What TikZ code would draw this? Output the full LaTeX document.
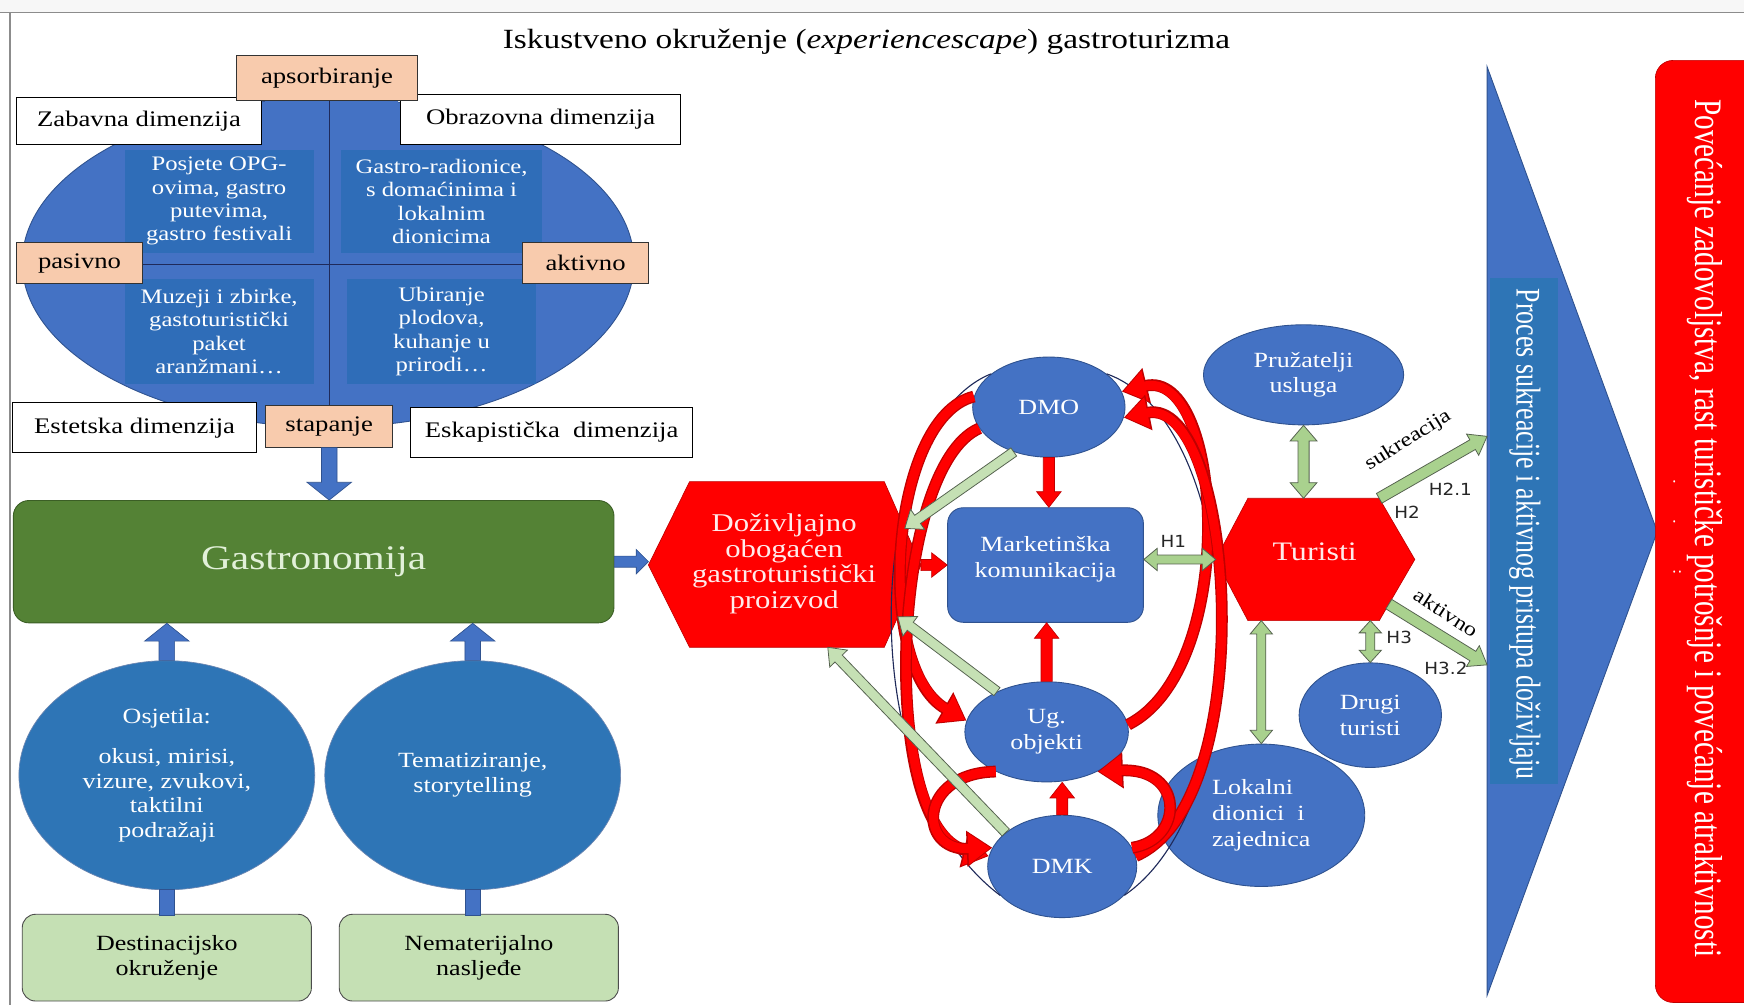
\documentclass[tikz,border=0pt]{standalone}
\usepackage{fontspec}
\setmainfont[FakeStretch=1.2]{Liberation Serif}
\newfontfamily\condfont[FakeStretch=0.75]{Liberation Serif}
\newfontfamily\hsans[FakeStretch=1.1]{DejaVu Sans}
\usetikzlibrary{calc,shapes.geometric,arrows.meta}
\definecolor{blueA}{HTML}{4472C4}
\definecolor{blueB}{HTML}{2E75B6}
\definecolor{blueQ}{HTML}{2F6DB8}
\definecolor{bdark}{HTML}{2F528F}
\definecolor{gdark}{HTML}{548235}
\definecolor{gborder}{HTML}{3B5E25}
\definecolor{glight}{HTML}{C5E0B4}
\definecolor{gmid}{HTML}{A9D18E}
\definecolor{goutline}{HTML}{55624F}
\definecolor{peach}{HTML}{F8CBAD}
\definecolor{redA}{HTML}{FF0000}
\definecolor{redD}{HTML}{C00000}
\definecolor{gastxt}{HTML}{E2F0D9}
\definecolor{navy}{HTML}{1F2A5A}
\newcommand{\myfs}[2]{\fontsize{#1}{#2}\selectfont}
% block arrow: #1 style, #2 shaft half width, #3 head half width, #4 head length, #5 from, #6 to
\newcommand{\blkarrow}[6]{%
  \coordinate (ba-s) at (#5);
  \coordinate (ba-e) at (#6);
  \coordinate (ba-n) at ($(ba-e)!#4!(ba-s)$);
  \path[#1] ($(ba-s)!#2!90:(ba-e)$) -- ($(ba-n)!#2!-90:(ba-s)$) -- ($(ba-n)!#3!-90:(ba-s)$) -- (ba-e)
     -- ($(ba-n)!#3!90:(ba-s)$) -- ($(ba-n)!#2!90:(ba-s)$) -- ($(ba-s)!#2!-90:(ba-e)$) -- cycle;
}
\newcommand{\dblkarrow}[6]{%
  \coordinate (ba-s) at (#5);
  \coordinate (ba-e) at (#6);
  \coordinate (ba-m) at ($(ba-s)!#4!(ba-e)$);
  \coordinate (ba-n) at ($(ba-e)!#4!(ba-s)$);
  \path[#1] (ba-s) -- ($(ba-m)!#3!90:(ba-e)$) -- ($(ba-m)!#2!90:(ba-e)$) -- ($(ba-n)!#2!-90:(ba-s)$)
     -- ($(ba-n)!#3!-90:(ba-s)$) -- (ba-e) -- ($(ba-n)!#3!90:(ba-s)$) -- ($(ba-n)!#2!90:(ba-s)$)
     -- ($(ba-m)!#2!-90:(ba-e)$) -- ($(ba-m)!#3!-90:(ba-e)$) -- cycle;
}
\newcommand{\redcurve}[1]{%
  \draw[redD, line width=10.6pt, -{Triangle[length=23pt,width=31pt]}] #1;
  \draw[redA, line width=8.2pt, shorten >=1.6pt, -{Triangle[length=20pt,width=27pt]}] #1;
}
\begin{document}
\begin{tikzpicture}[x=1pt,y=-1pt,
  wbox/.style={draw=black, fill=white, line width=0.9pt, inner sep=0pt, font=\myfs{20}{24}},
  pbox/.style={draw=black!80, fill=peach, line width=0.9pt, inner sep=0pt, font=\myfs{20}{24}},
  quad/.style={fill=blueQ, text=white, inner sep=0pt, align=center, font=\myfs{18.5}{21}},
  bell/.style={ellipse, draw=bdark, fill=blueA, line width=0.8pt, inner sep=0pt, text=white, align=center, font=\myfs{19.5}{23}},
  bcirc/.style={ellipse, draw=bdark!70, fill=blueB, line width=0.6pt, inner sep=0pt, text=white, align=center, font=\myfs{19.5}{22}},
  lgbox/.style={draw=gray!60!black, fill=glight, rounded corners=12pt, line width=0.8pt, align=center, font=\myfs{19.5}{23}},
  barblue/.style={fill=blueA, draw=bdark, line width=0.6pt},
  barred/.style={fill=redA, draw=redD, line width=0.6pt},
  bargreen/.style={fill=glight, draw=goutline, line width=0.7pt},
  bargreen2/.style={fill=gmid, draw=goutline, line width=0.7pt},
  hlab/.style={font=\hsans\myfs{15}{15}, text=black!85, inner sep=1pt}
]
\useasboundingbox (0,0) rectangle (1568,904);
\clip (0,0) rectangle (1568,904);
\fill[white] (0,0) rectangle (1568,904);
\fill[black!3] (0,0) rectangle (1568,11);
\draw[black!45, line width=1.2pt] (0,11.5) -- (1568,11.5);
\draw[black!45, line width=1.2pt] (9,11.5) -- (9,904);

% title
\node[font=\myfs{25}{30}] (title) at (779,38) {Iskustveno okruženje (\textit{experiencescape}) gastroturizma};

% experience dimensions
\node[ellipse, fill=blueA, draw=bdark, line width=0.8pt, minimum width=550pt, minimum height=296pt, inner sep=0pt] (elp) at (295,236) {};
\fill[blueA] (238,88) rectangle (358,112);
\node[quad, minimum width=170pt, minimum height=93pt] (q1) at (197,181) {Posjete OPG-\\ovima, gastro\\putevima,\\gastro festivali};
\node[quad, minimum width=180pt, minimum height=93pt] (q2) at (397,181) {Gastro-radionice,\\s domaćinima i\\lokalnim\\dionicima};
\node[quad, minimum width=170pt, minimum height=95pt] (q3) at (197,298) {Muzeji i zbirke,\\gastoturistički\\paket\\aranžmani…};
\node[quad, minimum width=170pt, minimum height=95pt] (q4) at (397,298) {Ubiranje\\plodova,\\kuhanje u\\prirodi…};
\draw[navy, line width=1.3pt] (296,90) -- (296,366);
\draw[navy, line width=1.3pt] (21,238) -- (569,238);

\node[wbox, minimum width=220pt, minimum height=42pt] (zab) at (125,109) {Zabavna dimenzija};
\node[wbox, minimum width=252pt, minimum height=45pt] (obr) at (486,107.5) {Obrazovna dimenzija};
\node[wbox, minimum width=220pt, minimum height=45pt] (est) at (121,384.5) {Estetska dimenzija};
\node[wbox, minimum width=254pt, minimum height=45pt] (esk) at (496,388.5) {Eskapistička\ \ dimenzija};
\node[pbox, minimum width=162pt, minimum height=40pt] (aps) at (294,70) {apsorbiranje};
\node[pbox, minimum width=113pt, minimum height=37pt] (pas) at (71.5,236.5) {pasivno};
\node[pbox, minimum width=113pt, minimum height=37pt] (akt) at (526.5,236.5) {aktivno};
\node[pbox, minimum width=114pt, minimum height=37pt] (stap) at (296,383.5) {stapanje};

% gastronomija
\node[draw=gborder, fill=gdark, rounded corners=14pt, minimum width=540pt, minimum height=110pt, text=gastxt, font=\myfs{31}{34}, line width=0.8pt] (gas) at (282,505) {Gastronomija};
\blkarrow{barblue}{7pt}{20pt}{16pt}{stap.south}{stap.south |- gas.north}

% bottom left
\node[lgbox, minimum width=260pt, minimum height=78pt] (dest) at (150,861) {Destinacijsko\\okruženje};
\node[lgbox, minimum width=251pt, minimum height=78pt] (nem) at (430.5,861) {Nematerijalno\\nasljeđe};
\node[bcirc, minimum width=266pt, minimum height=206pt] (osj) at (150,697) {Osjetila:\\[14pt]okusi, mirisi,\\vizure, zvukovi,\\taktilni\\podražaji};
\node[bcirc, minimum width=266pt, minimum height=206pt] (tem) at (425,697) {Tematiziranje,\\storytelling};
\path[barblue] ($(dest.north)+(-7,1)$) rectangle ($(dest.north |- osj.south)+(7,-1)$);
\path[barblue] ($(tem.south |- nem.north)+(-7,1)$) rectangle ($(tem.south)+(7,-1)$);
\blkarrow{barblue}{7pt}{20pt}{16pt}{osj.north}{osj.north |- gas.south}
\blkarrow{barblue}{7pt}{20pt}{16pt}{tem.north}{tem.north |- gas.south}

% product hexagon
\coordinate (prodL) at (583,508);
\coordinate (prodTL) at (620,433);
\coordinate (prodTR) at (795,433);
\coordinate (prodR) at (828,508);
\coordinate (prodBR) at (795,582);
\coordinate (prodBL) at (620,582);
\path[fill=redA, draw=redD, line width=0.6pt] (prodL) -- (prodTL) -- (prodTR) -- (prodR) -- (prodBR) -- (prodBL) -- cycle;
\node[text=red!8!white, align=center, font=\myfs{23}{23}] (prod) at (705,507) {Doživljajno\\obogaćen\\gastroturistički\\proizvod};
\blkarrow{barblue}{5pt}{11pt}{11pt}{gas.east}{gas.east -| prodL}

% big blue arrow
\coordinate (bigT) at (1337,60);
\coordinate (bigTip) at (1490,478);
\coordinate (bigB) at (1337,895);
\path[fill=blueA, draw=bdark, line width=0.8pt] (bigT) -- (bigTip) -- (bigB) -- cycle;
\fill[blueB] (1340,250) rectangle (1401,705);
\node[rotate=-90, text=white, font=\condfont\myfs{31}{31}] (proc) at (1371,480) {Proces sukreacije i aktivnog pristupa doživljaju};

% result box
\node[fill=redA, draw=redD, rounded corners=16pt, minimum width=110pt, minimum height=847pt, anchor=north west, line width=0.6pt] (res) at (1488,54) {};
\node[rotate=-90, text=white, font=\condfont\myfs{35}{35}] (restxt) at (1533,475) {Povećanje zadovoljstva, rast turističke potrošnje i povećanje atraktivnosti};
\node[rotate=-90, text=white, font=\myfs{14}{14}] (dots) at (1508,474) {.\hspace{32pt}.\hspace{41pt}:};

% middle nodes
\node[bell, minimum width=137pt, minimum height=90pt] (dmo) at (943,366) {DMO};
\node[draw=bdark, fill=blueA, rounded corners=14pt, minimum width=176pt, minimum height=103pt, text=white, align=center, font=\myfs{19.5}{23}, line width=0.8pt, text depth=14pt] (mk) at (940,508) {Marketinška\\komunikacija};
\node[bell, minimum width=147pt, minimum height=90pt] (ug) at (941,658) {Ug.\\objekti};
\node[bell, minimum width=134pt, minimum height=92pt] (dmk) at (955,779) {DMK};
\node[bell, minimum width=180pt, minimum height=90pt] (pru) at (1172,337) {Pružatelji\\usluga};
\node[bell, minimum width=128pt, minimum height=94pt] (dru) at (1232,643) {Drugi\\turisti};
\node[bell, minimum width=186pt, minimum height=128pt, align=left] (lok) at (1134,733) {Lokalni\\dionici\ \ i\\zajednica};

% turisti hexagon
\coordinate (turL) at (1093,503);
\coordinate (turTL) at (1122,448);
\coordinate (turTR) at (1240,448);
\coordinate (turR) at (1272,503);
\coordinate (turBR) at (1240,558);
\coordinate (turBL) at (1122,558);
\path[fill=redA, draw=redD, line width=0.6pt] (turL) -- (turTL) -- (turTR) -- (turR) -- (turBR) -- (turBL) -- cycle;
\node[text=red!8!white, font=\myfs{24}{24}] (tur) at (1182,496) {Turisti};

% thin outlines
\draw[navy, line width=1pt] (dmo.150) .. controls (780,380) and (760,700) .. (dmk.205);
\draw[navy, line width=1pt] (dmo.30) .. controls (1120,380) and (1135,720) .. (dmk.-25);

% red curved arrows
\redcurve{(dmo.172) .. controls (800,375) and (785,600) .. (ug.172)}
\redcurve{(dmo.197) .. controls (800,420) and (790,745) .. (dmk.172)}
\redcurve{(ug.5) .. controls (1115,600) and (1100,330) .. (dmo.12)}
\redcurve{(dmk.8) .. controls (1135,720) and (1110,355) .. (dmo.-8)}
\redcurve{(ug.218) .. controls (825,695) and (825,765) .. (dmk.165)}
\redcurve{(dmk.15) .. controls (1065,755) and (1065,690) .. (ug.-38)}

% red straight arrows
\blkarrow{barred}{5pt}{11pt}{14pt}{dmo.south}{dmo.south |- mk.north}
\blkarrow{barred}{5pt}{11pt}{14pt}{ug.north}{ug.north |- mk.south}
\blkarrow{barred}{5pt}{11pt}{14pt}{dmk.north}{dmk.north |- ug.south}
\blkarrow{barred}{5pt}{11pt}{14pt}{prodR}{prodR -| mk.west}

% green arrows
\blkarrow{bargreen}{4.5pt}{11pt}{14pt}{dmo.-128}{$(prodTR)!0.56!(prodR)$}
\blkarrow{bargreen}{4.5pt}{11pt}{14pt}{ug.141}{$(prodR)!0.63!(prodBR)$}
\blkarrow{bargreen}{4.5pt}{11pt}{14pt}{dmk.149}{$(prodBL)!0.71!(prodBR)$}
\dblkarrow{bargreen2}{4pt}{10pt}{12pt}{turL -| mk.east}{turL}
\dblkarrow{bargreen2}{5pt}{12pt}{14pt}{pru.south}{pru.south |- turTL}
\dblkarrow{bargreen2}{4pt}{10pt}{12pt}{lok.north |- turBL}{lok.north}
\dblkarrow{bargreen2}{4pt}{10pt}{11pt}{dru.north |- turBR}{dru.north}
\blkarrow{bargreen2}{5pt}{11pt}{15pt}{turTR}{$(bigT)!0.398!(bigB)$}
\blkarrow{bargreen2}{5pt}{11pt}{15pt}{$(turR)!0.73!(turBR)$}{$(bigT)!0.644!(bigB)$}

% labels
\node[hlab] (h1) at (1055,487) {H1};
\node[hlab] (h21) at (1304,440) {H2.1};
\node[hlab] (h2) at (1265,461) {H2};
\node[hlab] (h3) at (1258,573) {H3};
\node[hlab] (h32) at (1300,601) {H3.2};
\node[rotate=32, font=\myfs{18}{18}] (suk) at (1266,396) {sukreacija};
\node[rotate=-33, font=\myfs{18}{18}] (aktl) at (1300,551) {aktivno};
\end{tikzpicture}
\end{document}
